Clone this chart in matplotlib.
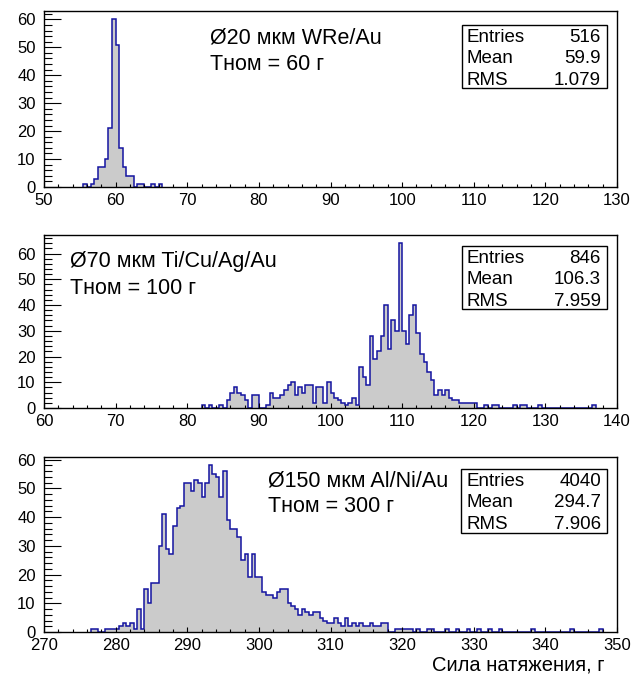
import numpy as np
import matplotlib
matplotlib.use('Agg')
import matplotlib.pyplot as plt
from matplotlib.patches import Rectangle
from matplotlib.ticker import MultipleLocator

plt.rcParams['font.family'] = ['Liberation Sans', 'DejaVu Sans']

BIN = 0.5

# Panel 1: Ø20 мкм WRe/Au
p1_start = 55.5
p1_counts = [1, 0, 1, 3, 7, 7, 10, 21, 60, 51, 14, 7, 4, 4, 0, 1, 1, 0, 0, 1, 0, 1]
p1_xlim = (50, 130)
p1_title = ["Ø20 мкм WRe/Au", "Tном = 60 г"]
p1_stats = [("Entries", "516"), ("Mean", "59.9"), ("RMS", "1.079")]

# Panel 2: Ø70 мкм Ti/Cu/Ag/Au
p2_start = 82.0
p2_counts = [1, 0, 1, 0, 0, 1, 0, 3, 6, 8, 6, 5, 3, 0, 5, 5, 0, 0, 1, 6,
             4, 4, 5, 7, 9, 10, 5, 8, 6, 9, 9, 2, 8, 8, 2, 10, 6, 4, 3, 2,
             1, 2, 4, 1, 16, 12, 9, 28, 19, 22, 28, 40, 23, 34, 30, 64, 30, 25, 36, 40,
             29, 21, 18, 14, 11, 5, 7, 5, 7, 4, 3, 3, 2, 2, 2, 2, 2, 0, 0, 1,
             0, 1, 1, 0, 0, 0, 0, 1, 0, 1, 1, 0, 0, 0, 1, 0, 0, 0, 0, 0,
             0, 0, 0, 0, 0, 0, 0, 0, 0, 1]
p2_xlim = (60, 140)
p2_title = ["Ø70 мкм Ti/Cu/Ag/Au", "Tном = 100 г"]
p2_stats = [("Entries", "846"), ("Mean", "106.3"), ("RMS", "7.959")]

# Panel 3: Ø150 мкм Al/Ni/Au
p3_start = 276.5
p3_counts = [1, 1, 0, 0, 1, 1, 1, 1, 2, 3, 2, 3, 1, 8, 1, 15, 10, 17, 17, 30,
             41, 29, 27, 37, 43, 44, 52, 52, 49, 53, 52, 47, 52, 58, 55, 54, 47, 56, 39, 36,
             36, 33, 25, 27, 19, 27, 19, 19, 14, 13, 13, 12, 14, 15, 15, 10, 9, 8, 6, 8,
             7, 6, 7, 7, 5, 4, 3, 3, 5, 3, 2, 5, 2, 3, 2, 3, 2, 2, 3, 2,
             2, 3, 3, 0, 0, 1, 1, 1, 1, 1, 0, 1, 0, 0, 1, 1, 0, 0, 0, 1,
             0, 0, 1, 0, 0, 1, 0, 0, 1, 0, 0, 1, 0, 0, 1, 0, 0, 0, 0, 0,
             0, 0, 0, 1, 0, 0, 0, 0, 0, 0, 0, 0, 0, 0, 1, 0, 0, 0, 0, 0,
             0, 0, 1]
p3_xlim = (270, 350)
p3_title = ["Ø150 мкм Al/Ni/Au", "Tном = 300 г"]
p3_stats = [("Entries", "4040"), ("Mean", "294.7"), ("RMS", "7.906")]

x_label = "Сила натяжения, г"

W, H = 633, 679
fig = plt.figure(figsize=(W / 100, H / 100), dpi=100)

def fx(x):
    return x / W

def fy(y):
    return 1 - y / H

FILL = '#cbcbcb'
EDGE = '#1414a0'

panels = [
    dict(start=p1_start, counts=p1_counts, xlim=p1_xlim, title=p1_title, stats=p1_stats,
         box=(44, 11, 617, 187), tpos=(210, 38), sbox=(462, 25, 607, 88)),
    dict(start=p2_start, counts=p2_counts, xlim=p2_xlim, title=p2_title, stats=p2_stats,
         box=(44, 235, 617, 408), tpos=(70, 262), sbox=(462, 246, 607, 309)),
    dict(start=p3_start, counts=p3_counts, xlim=p3_xlim, title=p3_title, stats=p3_stats,
         box=(44, 457, 617, 632), tpos=(268, 481), sbox=(461, 469, 607, 533)),
]

for p in panels:
    l, t, r, b = p['box']
    ax = fig.add_axes([fx(l), fy(b), fx(r) - fx(l), fy(t) - fy(b)])
    counts = np.array(p['counts'], dtype=float)
    edges = p['start'] + BIN * np.arange(len(counts) + 1)
    ax.stairs(counts, edges, fill=True, color=FILL, lw=0)
    ax.stairs(counts, edges, fill=False, baseline=0, color=EDGE, lw=1.1)
    ax.set_xlim(*p['xlim'])
    ax.set_ylim(0, counts.max() * 1.05)
    ax.xaxis.set_major_locator(MultipleLocator(10))
    ax.xaxis.set_minor_locator(MultipleLocator(2))
    ax.yaxis.set_major_locator(MultipleLocator(10))
    ax.yaxis.set_minor_locator(MultipleLocator(2))
    ax.tick_params(axis='x', which='major', direction='in', length=3.8, width=0.8,
                   labelsize=12, pad=4, top=False)
    ax.tick_params(axis='x', which='minor', direction='in', length=1.9, width=0.8, top=False)
    ax.tick_params(axis='y', which='major', direction='in', length=12, width=0.8,
                   labelsize=12, pad=6, right=False)
    ax.tick_params(axis='y', which='minor', direction='in', length=6, width=0.8, right=False)
    for s in ax.spines.values():
        s.set_linewidth(1.0)
        s.set_color('black')
    tx, ty = p['tpos']
    fig.text(fx(tx), fy(ty), p['title'][0], fontsize=15.5, va='center', ha='left')
    fig.text(fx(tx), fy(ty + 26), p['title'][1], fontsize=15.5, va='center', ha='left')
    sl, st, sr, sb = p['sbox']
    rect = Rectangle((fx(sl), fy(sb)), fx(sr) - fx(sl), fy(st) - fy(sb),
                     transform=fig.transFigure, facecolor='white', edgecolor='black',
                     lw=1.0, zorder=5)
    fig.add_artist(rect)
    for i, (k, v) in enumerate(p['stats']):
        yy = st + 12.5 + i * 21.3
        fig.text(fx(sl + 5), fy(yy), k, fontsize=13.5, va='center', ha='left', zorder=6)
        fig.text(fx(sr - 6), fy(yy), v, fontsize=13.5, va='center', ha='right', zorder=6)

fig.text(fx(605), fy(665), x_label, fontsize=14.5, ha='right', va='center')

fig.savefig('out.png', dpi=100)
